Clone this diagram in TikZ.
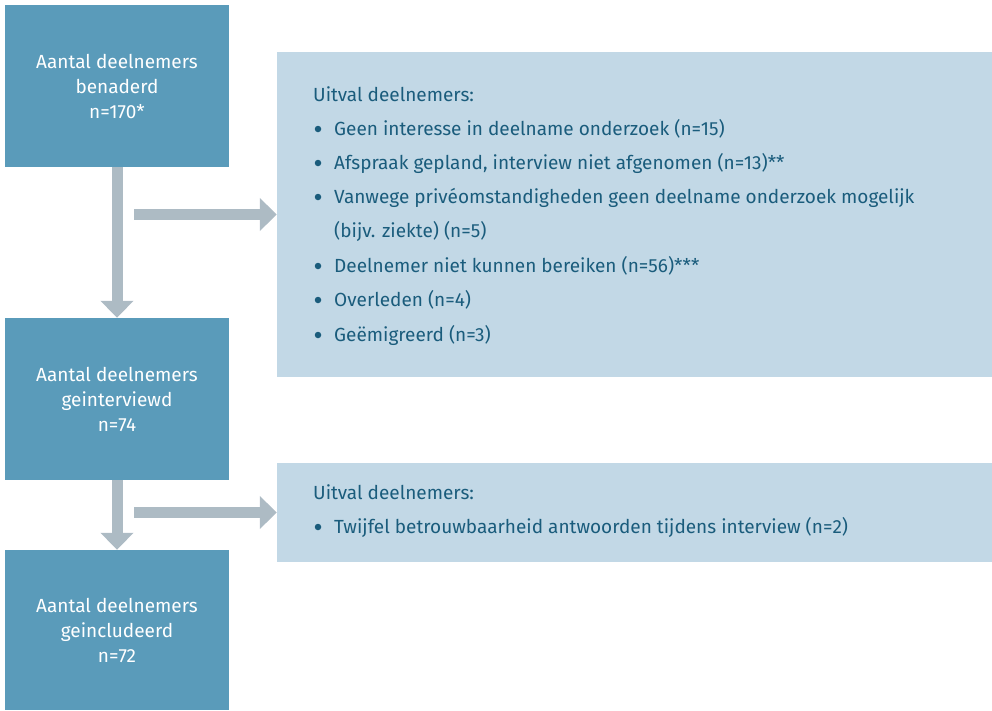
\documentclass[tikz,border=0pt]{standalone}
\usepackage{fontspec}
\setmainfont{Fira Sans}
\usetikzlibrary{arrows.meta}
\definecolor{boxblue}{HTML}{5A9BBA}
\definecolor{lightblue}{HTML}{C2D8E6}
\definecolor{arrowgray}{HTML}{ADBBC4}
\definecolor{textblue}{HTML}{1A5C7C}
\begin{document}
\begin{tikzpicture}[x=1pt,y=-1pt,
  mainbox/.style={fill=boxblue, minimum width=224pt, text=white, align=center,
    font=\fontsize{19}{25}\selectfont, inner sep=0pt},
  dropbox/.style={fill=lightblue, minimum width=715pt, inner sep=0pt},
  flow/.style={draw=arrowgray, line width=11pt, -{Triangle[width=32pt,length=17pt]}},
  droptext/.style={anchor=base west, text=textblue, font=\fontsize{19}{22}\selectfont, inner sep=0pt},
  dropbullet/.style={circle, fill=textblue, minimum size=6.5pt, inner sep=0pt}]
\useasboundingbox (0,0) rectangle (992,710);
% main boxes
\node[mainbox, minimum height=162pt] (b1) at (117,86) {Aantal deelnemers\\benaderd\\n=170*};
\node[mainbox, minimum height=162pt] (b2) at (117,399) {Aantal deelnemers\\geinterviewd\\n=74};
\node[mainbox, minimum height=160pt] (b3) at (117,630) {Aantal deelnemers\\geincludeerd\\n=72};
% drop-out boxes
\node[dropbox, minimum height=325pt] (d1) at (634.5,214.5) {};
\node[dropbox, minimum height=99pt] (d2) at (634.5,512.5) {};
% texts of first drop-out box
\node[droptext] (h1) at (313,101) {Uitval deelnemers:};
\node[dropbullet] (p1) at (318,129) {};
\node[droptext] (t1) at (334,135) {Geen interesse in deelname onderzoek (n=15)};
\node[dropbullet] (p2) at (318,163) {};
\node[droptext] (t2) at (334,169) {Afspraak gepland, interview niet afgenomen (n=13)**};
\node[dropbullet] (p3) at (318,197) {};
\node[droptext] (t3) at (334,203) {Vanwege privéomstandigheden geen deelname onderzoek mogelijk};
\node[droptext] (t3b) at (334,237.5) {(bijv. ziekte) (n=5)};
\node[dropbullet] (p4) at (318,266) {};
\node[droptext] (t4) at (334,272) {Deelnemer niet kunnen bereiken (n=56)***};
\node[dropbullet] (p5) at (318,300) {};
\node[droptext] (t5) at (334,306) {Overleden (n=4)};
\node[dropbullet] (p6) at (318,335) {};
\node[droptext] (t6) at (334,341) {Geëmigreerd (n=3)};
% texts of second drop-out box
\node[droptext] (h2) at (313,499) {Uitval deelnemers:};
\node[dropbullet] (q1) at (318,527) {};
\node[droptext] (u1) at (334,533) {Twijfel betrouwbaarheid antwoorden tijdens interview (n=2)};
% connectors
\coordinate (s1) at (134,214.5);
\coordinate (s2) at (134,512.5);
\draw[flow] (b1.south) -- (b2.north);
\draw[flow] (b2.south) -- (b3.north);
\draw[flow] (s1) -- (d1.west);
\draw[flow] (s2) -- (d2.west);
\end{tikzpicture}
\end{document}
